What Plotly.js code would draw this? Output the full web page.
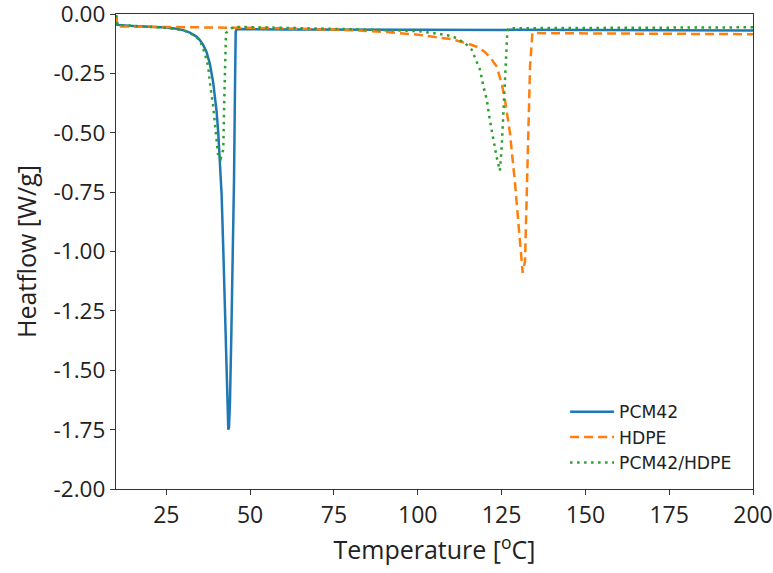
<!DOCTYPE html>
<html>
<head>
<meta charset="utf-8">
<script src="https://cdn.plot.ly/plotly-3.0.1.min.js"></script>
<style>html,body{margin:0;padding:0;background:#fff;}#chart{width:773px;height:573px;}</style>
</head>
<body>
<div id="chart"></div>
<script>
// PCM42 (solid blue)
const pcmT = [10, 10.4, 15, 20, 25, 28, 30, 32, 33, 34, 35, 36, 37, 38, 39, 40, 40.5, 41, 41.5, 42, 42.5, 43, 43.3, 43.5, 43.7, 44, 44.4, 44.8, 45.2, 45.5, 45.7, 46, 60, 100, 150, 200];
const pcmQ = [-0.005, -0.046, -0.050, -0.053, -0.057, -0.062, -0.068, -0.078, -0.085, -0.095, -0.11, -0.13, -0.16, -0.21, -0.29, -0.41, -0.50, -0.61, -0.76, -0.99, -1.28, -1.55, -1.69, -1.75, -1.74, -1.63, -1.35, -1.06, -0.70, -0.30, -0.075, -0.063, -0.065, -0.066, -0.067, -0.069];
// HDPE (dashed orange)
const hdpeT = [10, 10.4, 20, 40, 60, 80, 90, 100, 105, 110, 115, 118, 120, 122, 123.5, 125, 126, 127.5, 129, 130.3, 131.3, 132, 132.5, 133, 133.5, 134.2, 140, 170, 200];
const hdpeQ = [-0.005, -0.052, -0.054, -0.057, -0.060, -0.068, -0.075, -0.087, -0.095, -0.106, -0.125, -0.14, -0.16, -0.19, -0.22, -0.29, -0.36, -0.50, -0.71, -0.92, -1.09, -1.04, -0.78, -0.50, -0.22, -0.08, -0.081, -0.083, -0.085];
// PCM42/HDPE (dotted green)
const blendT = [10, 10.4, 15, 20, 25, 30, 33.1, 35, 36.5, 37.5, 38, 39, 39.8, 40.5, 41.2, 42, 42.3, 42.5, 42.8, 45, 60, 80, 100, 106.6, 110.6, 114.1, 116.1, 117.5, 118.6, 119.6, 120.6, 121.5, 122.5, 123.5, 124.5, 125, 125.5, 126, 126.3, 126.7, 127, 150, 200];
const blendQ = [-0.005, -0.046, -0.050, -0.054, -0.058, -0.068, -0.088, -0.11, -0.165, -0.22, -0.29, -0.39, -0.50, -0.60, -0.61, -0.57, -0.36, -0.22, -0.08, -0.054, -0.058, -0.064, -0.072, -0.084, -0.095, -0.123, -0.15, -0.20, -0.236, -0.306, -0.36, -0.446, -0.53, -0.60, -0.66, -0.57, -0.43, -0.29, -0.15, -0.08, -0.060, -0.058, -0.056];

const xTicks = [25, 50, 75, 100, 125, 150, 175, 200];
const yTicks = [0, -0.25, -0.5, -0.75, -1, -1.25, -1.5, -1.75, -2];
const yTickText = ["0.00", "-0.25", "-0.50", "-0.75", "-1.00", "-1.25", "-1.50", "-1.75", "-2.00"];

const traces = [
  {x: pcmT, y: pcmQ, name: "PCM42", legendgroup: "a", mode: "lines", line: {color: "#1f77b4", width: 2.5}},
  {x: hdpeT, y: hdpeQ, name: "HDPE", legendgroup: "b", mode: "lines", line: {color: "#ff7f0e", width: 2.5, dash: "9px,5px"}},
  {x: blendT, y: blendQ, name: "PCM42/HDPE", legendgroup: "c", mode: "lines", line: {color: "#2ca02c", width: 2.5, dash: "2.5px,4.5px"}}
];

const font = "'Open Sans', 'Noto Sans', sans-serif";
const layout = {
  width: 773, height: 573,
  margin: {l: 116, r: 20, t: 14, b: 84},
  paper_bgcolor: "#fff", plot_bgcolor: "#fff",
  showlegend: true,
  legend: {x: 0.705, y: 0.2, xanchor: "left", yanchor: "top", bgcolor: "rgba(255,255,255,0)",
           traceorder: "grouped", tracegroupgap: 0, itemwidth: 44,
           font: {family: "'DejaVu Sans', sans-serif", size: 17.2, color: "#222"}},
  xaxis: {
    range: [10, 200], tickvals: xTicks, ticks: "outside", ticklen: 5, tickwidth: 1, tickcolor: "#333",
    showline: true, linecolor: "#333", linewidth: 1.2, mirror: true, showgrid: false, zeroline: false,
    ticklabeloverflow: "allow",
    tickfont: {family: font, size: 23, color: "#222"},
    title: {text: "Temperature [<sup>o</sup>C]", font: {family: font, size: 25, color: "#222"}, standoff: 11}
  },
  yaxis: {
    range: [-2, 0], tickvals: yTicks, ticktext: yTickText, ticks: "outside", ticklen: 5, tickwidth: 1, tickcolor: "#333",
    showline: true, linecolor: "#333", linewidth: 1.2, mirror: true, showgrid: false, zeroline: false,
    ticklabeloverflow: "allow",
    tickfont: {family: font, size: 22.5, color: "#222"},
    title: {text: "Heatflow [W/g]", font: {family: font, size: 25, color: "#222"}, standoff: 9}
  }
};
Plotly.newPlot("chart", traces, layout, {displayModeBar: false, staticPlot: true});
</script>
</body>
</html>
